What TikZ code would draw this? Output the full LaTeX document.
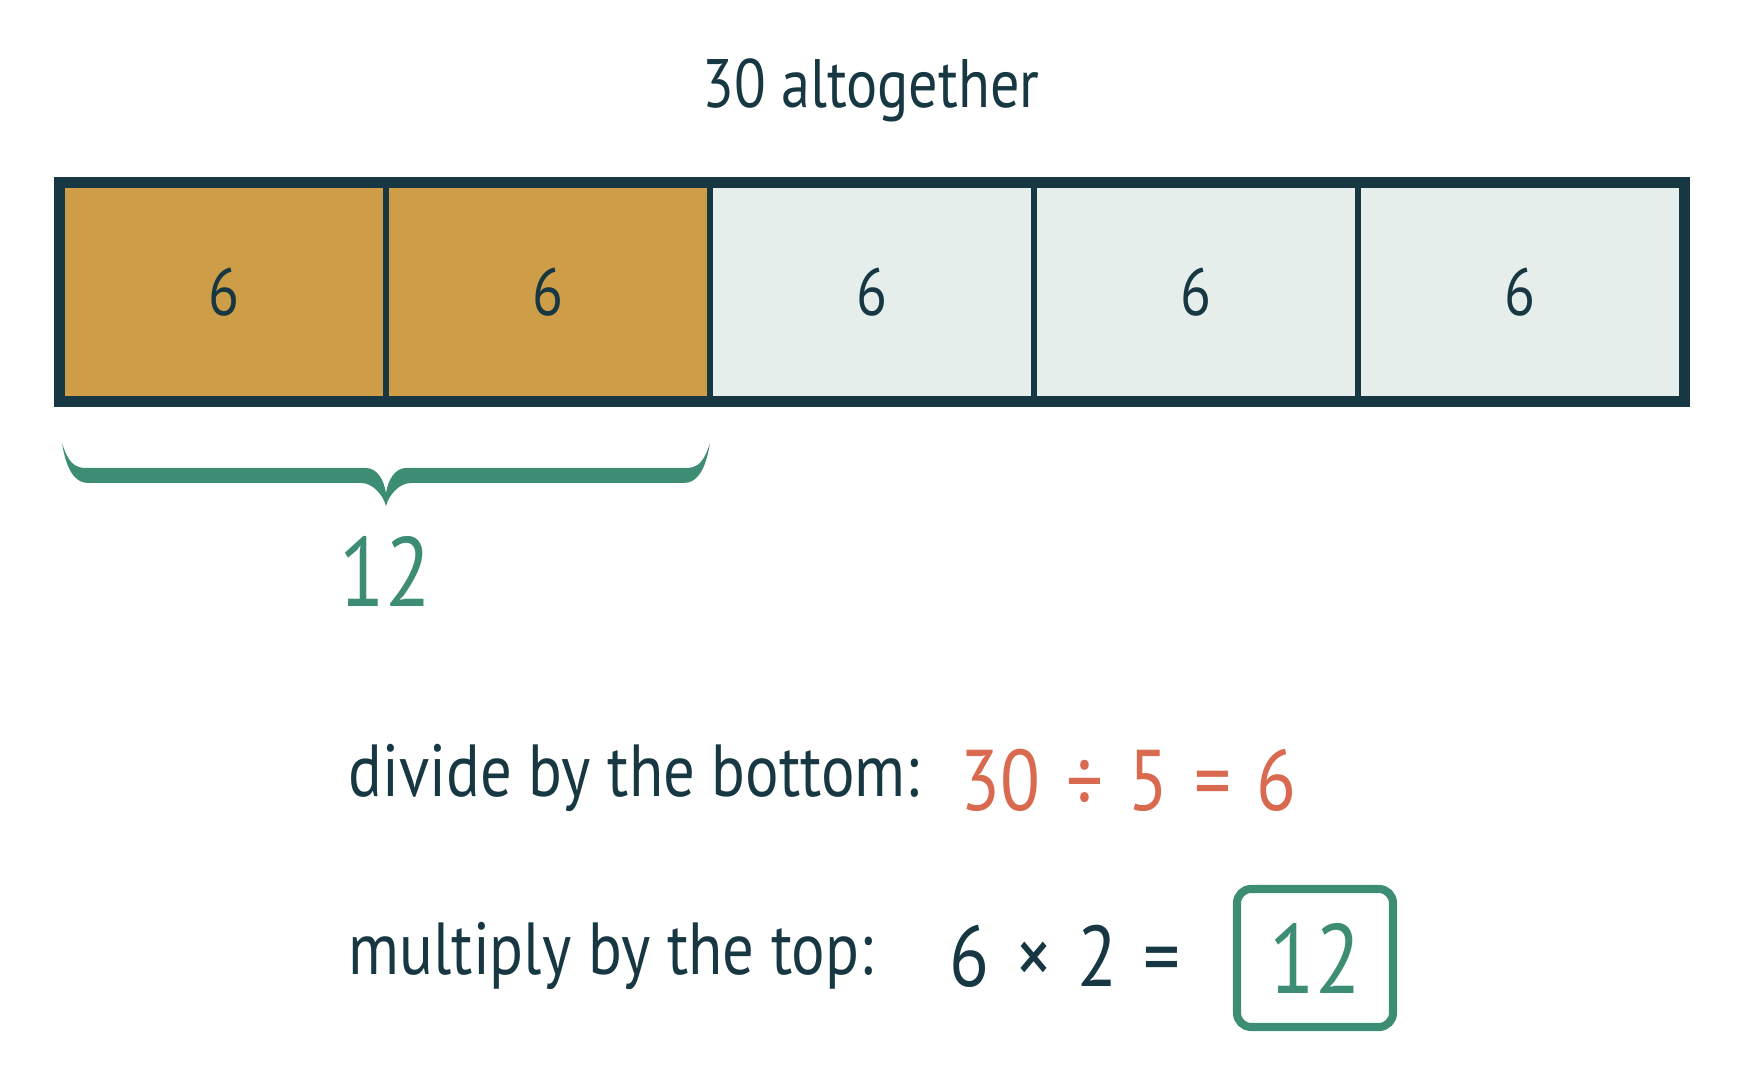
\documentclass[tikz,border=0pt]{standalone}
\usepackage{fontspec}
\setmainfont[FakeStretch=0.85]{PT Sans}
\usetikzlibrary{positioning}
\usepackage{xcolor}
\definecolor{darkink}{HTML}{173842}
\definecolor{goldpart}{HTML}{CD9D47}
\definecolor{palepart}{HTML}{E6EEEC}
\definecolor{bracegreen}{HTML}{3D8C74}
\definecolor{sumorange}{HTML}{D96A50}
\newcommand{\gap}{\hspace{0.07em}}

\begin{document}
\begin{tikzpicture}
[
    x=0.1mm,y=-0.1mm,
    cell/.style={rectangle,draw=darkink,line width=1.6pt,minimum width=32.4mm,minimum height=21.4mm,inner sep=0pt,text=darkink,font=\fontsize{19}{19}\selectfont},
    taken/.style={cell,fill=goldpart},
    rest/.style={cell,fill=palepart},
    frame/.style={draw=darkink,line width=2.85pt},
    title/.style={anchor=base,inner sep=0pt,text=darkink,font=\fontsize{19.5}{19.5}\selectfont},
    step label/.style={anchor=base west,inner sep=0pt,text=darkink,font=\fontsize{21}{21}\selectfont},
    sum/.style={anchor=base west,inner sep=0pt,font=\fontsize{24.5}{24.5}\selectfont},
    answer/.style={rectangle,rounded corners=4pt,draw=bracegreen,line width=2.3pt,minimum width=15.6mm,minimum height=13.8mm,text=bracegreen,font=\fontsize{28}{28}\selectfont}
]
\useasboundingbox (0,0) rectangle (1744,1091);

\node (total) at (871,108) [title] {30 altogether};

\node (c1) at (224,292) [taken] {6};
\node (c2) at (548,292) [taken] {6};
\node (c3) at (872,292) [rest] {6};
\node (c4) at (1196,292) [rest] {6};
\node (c5) at (1520,292) [rest] {6};
\draw [frame] (c1.north west) rectangle (c5.south east);

% brace under the two gold parts
\fill [bracegreen] (62,443) .. controls (66,468) and (74,483) .. (88,483) -- (361,483)
    .. controls (373,483) and (383,495) .. (386,506)
    .. controls (389,495) and (399,483) .. (411,483) -- (684,483)
    .. controls (698,483) and (706,468) .. (710,443)
    .. controls (704,462) and (698,468) .. (686,468) -- (406,468)
    .. controls (395,468) and (388,480) .. (386,493)
    .. controls (384,480) and (377,468) .. (366,468) -- (86,468)
    .. controls (74,468) and (68,462) .. (62,443) -- cycle;
\node (part) at (385,607) [anchor=base,text=bracegreen,font=\fontsize{28}{28}\selectfont] {12};

\node (divide) at (348,797) [step label] {divide by the bottom:};
\node (divsum) at (960,811) [sum,text=sumorange] {30\gap{} ÷ \gap{}5\gap{} = \gap{}6};

\node (multiply) at (348,975) [step label] {multiply by the top:};
\node (mulsum) at (949,987) [sum,text=darkink] {6\gap{} × \gap{}2\gap{} =};
\node (ans) at (1315,958) [answer] {12};

\end{tikzpicture}
\end{document}
